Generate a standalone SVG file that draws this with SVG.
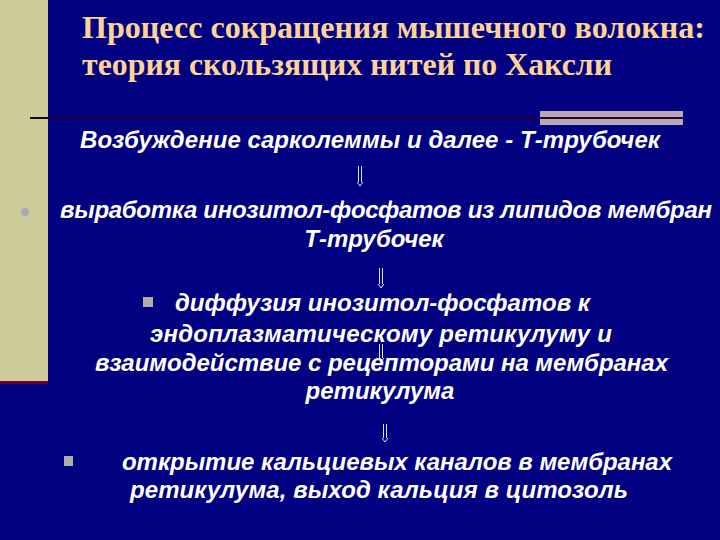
<svg xmlns="http://www.w3.org/2000/svg" width="720" height="540" viewBox="0 0 720 540">
<style>
.t{font-family:"Liberation Serif","Times New Roman",serif;font-weight:bold;font-size:31px;fill:#FFD296}
.b{font-family:"Liberation Sans",Arial,sans-serif;font-weight:bold;font-style:italic;font-size:24px;fill:#FFFFFF}
.ar{stroke:#E0E0FF;stroke-width:1;fill:none}
</style>
<rect width="720" height="540" fill="#000080"/>
<g id="sidebar">
<rect x="0" y="0" width="48" height="381" fill="#CCCC99"/>
<rect x="0" y="381" width="48" height="3" fill="#660033"/>
</g>
<g id="rule">
<rect x="540" y="111" width="143" height="14" fill="#B8A8B0"/>
<line x1="30" y1="118" x2="683" y2="118" stroke="#2A0030" stroke-width="2"/>
</g>
<g id="title">
<text class="t" x="82" y="38" textLength="623" lengthAdjust="spacingAndGlyphs">Процесс сокращения мышечного волокна:</text>
<text class="t" x="82" y="75" textLength="530" lengthAdjust="spacingAndGlyphs">теория скользящих нитей по Хаксли</text>
</g>
<g id="node1">
<text class="b" x="80" y="148" textLength="580" lengthAdjust="spacing">Возбуждение сарколеммы и далее - Т-трубочек</text>
</g>
<g id="node2">
<circle cx="25" cy="212" r="4" fill="#A8A8B8"/>
<text class="b" x="60" y="218" textLength="652" lengthAdjust="spacing">выработка инозитол-фосфатов из липидов мембран</text>
<text class="b" x="374" y="247" text-anchor="middle">Т-трубочек</text>
</g>
<g id="node3">
<rect x="143" y="297" width="10" height="10" fill="#B0B0A0"/>
<text class="b" x="175" y="311" textLength="415" lengthAdjust="spacing">диффузия инозитол-фосфатов к</text>
<text class="b" x="150" y="342" textLength="462" lengthAdjust="spacing">эндоплазматическому ретикулуму  и</text>
<text class="b" x="95" y="371" textLength="573" lengthAdjust="spacing">взаимодействие с рецепторами на мембранах</text>
<text class="b" x="380" y="399" text-anchor="middle">ретикулума</text>
</g>
<g id="node4">
<rect x="64" y="456" width="9" height="10" fill="#B0B0A0"/>
<text class="b" x="122" y="470" textLength="550" lengthAdjust="spacing">открытие кальциевых каналов в мембранах</text>
<text class="b" x="130" y="498" textLength="498" lengthAdjust="spacing">ретикулума, выход кальция в цитозоль</text>
</g>
<g id="connectors">
<path class="ar" d="M358.5 166V182M361.5 166V182M357 182L360 186L363 182"/>
<path class="ar" d="M379.5 268V284M382.5 268V284M378 284L381 288L384 284"/>
<path class="ar" d="M379.5 344V358M382.5 344V358M378 358L381 362L384 358"/>
<path class="ar" d="M383.5 424V438M386.5 424V438M382 438L385 442L388 438"/>
</g>
</svg>
